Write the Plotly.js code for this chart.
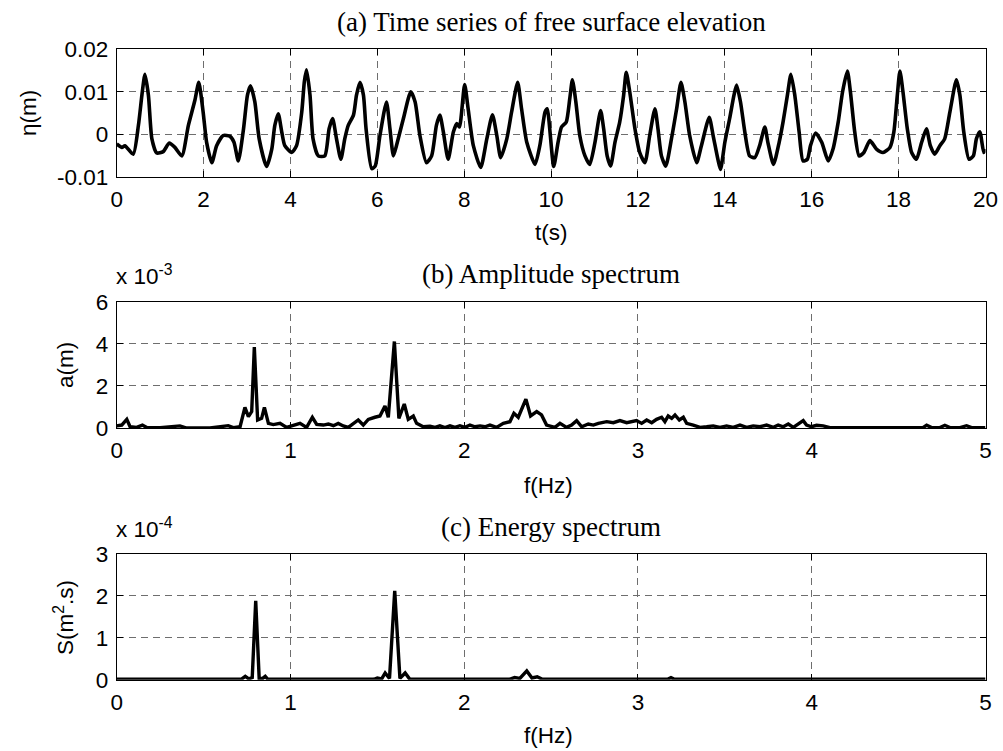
<!DOCTYPE html>
<html>
<head>
<meta charset="utf-8">
<script src="https://cdn.plot.ly/plotly-3.0.1.min.js"></script>
<style>html,body{margin:0;padding:0;background:#fff;}#chart{width:1003px;height:751px;}</style>
</head>
<body>
<div id="chart"></div>
<script>
// (a) time series of free surface elevation
var timeS = [0.00,0.12,0.19,0.38,0.50,0.58,0.65,0.73,0.81,0.92,1.07,1.21,1.34,1.50,1.65,1.80,1.89,1.99,2.07,2.19,2.30,2.45,2.61,2.70,2.80,2.92,3.01,3.08,3.18,3.28,3.45,3.57,3.64,3.72,3.80,3.87,4.03,4.14,4.26,4.32,4.37,4.45,4.52,4.64,4.79,4.89,
  4.97,5.06,5.16,5.25,5.33,5.45,5.52,5.60,5.68,5.74,5.87,5.95,6.06,6.21,6.29,6.37,6.44,6.60,6.77,6.87,6.98,7.13,7.25,7.36,7.44,7.52,7.63,7.75,7.83,7.89,8.01,8.09,8.21,8.38,8.52,8.65,8.75,8.84,8.98,9.09,9.23,9.32,9.44,9.63,9.74,9.86,9.91,
  10.06,10.16,10.24,10.35,10.43,10.49,10.57,10.66,10.78,10.89,11.01,11.14,11.21,11.29,11.37,11.47,11.58,11.67,11.73,11.81,11.93,12.04,12.16,12.27,12.39,12.46,12.54,12.64,12.77,12.89,12.99,13.08,13.19,13.35,13.46,13.64,13.73,13.84,13.90,14.00,14.11,14.21,14.27,14.36,14.46,14.57,14.69,14.80,14.92,14.99,
  15.12,15.25,15.34,15.44,15.52,15.61,15.71,15.80,15.90,15.97,16.09,16.23,16.38,16.49,16.61,16.71,16.82,16.89,16.99,17.09,17.20,17.34,17.49,17.64,17.80,17.89,17.97,18.03,18.10,18.20,18.30,18.41,18.53,18.64,18.73,18.83,18.95,19.06,19.18,19.33,19.41,19.50,19.62,19.72,19.79,19.87,19.96,20.00];
var eta = [-0.0023,-0.0031,-0.0027,-0.0047,0.0021,0.0092,0.0141,0.0092,-0.0011,-0.0044,-0.0041,-0.0021,-0.0031,-0.0051,0.0021,0.0080,0.0122,0.0052,-0.0019,-0.0067,-0.0027,-0.0003,-0.0005,-0.0019,-0.0063,0.0013,0.0092,0.0114,0.0076,-0.0011,-0.0076,-0.0035,0.0021,0.0048,0.0005,-0.0027,-0.0043,-0.0027,0.0052,0.0124,0.0152,0.0092,-0.0011,-0.0051,-0.0051,0.0013,
  0.0037,-0.0011,-0.0059,-0.0011,0.0021,0.0045,0.0092,0.0122,0.0092,0.0013,-0.0081,-0.0075,-0.0003,0.0076,0.0013,-0.0051,-0.0027,0.0037,0.0100,0.0076,-0.0003,-0.0067,-0.0051,0.0021,0.0045,0.0005,-0.0059,0.0005,0.0025,0.0017,0.0117,0.0060,-0.0027,-0.0078,-0.0011,0.0046,-0.0003,-0.0055,-0.0011,0.0052,0.0122,0.0060,-0.0019,-0.0071,-0.0027,0.0052,0.0060,
  -0.0076,-0.0019,0.0017,0.0029,0.0084,0.0128,0.0076,-0.0003,-0.0051,-0.0071,-0.0019,0.0056,0.0013,-0.0051,-0.0075,-0.0019,0.0029,0.0092,0.0146,0.0100,0.0013,-0.0043,-0.0067,-0.0003,0.0060,0.0013,-0.0051,-0.0075,-0.0011,0.0060,0.0122,0.0076,-0.0003,-0.0067,-0.0027,0.0040,-0.0003,-0.0059,-0.0083,-0.0019,0.0037,0.0092,0.0116,0.0076,0.0005,-0.0051,-0.0055,-0.0027,0.0017,-0.0019,
  -0.0071,-0.0019,0.0029,0.0092,0.0141,0.0092,0.0005,-0.0063,-0.0059,-0.0027,0.0003,-0.0019,-0.0063,-0.0035,0.0029,0.0100,0.0149,0.0100,0.0005,-0.0051,-0.0043,-0.0015,-0.0035,-0.0043,-0.0031,0.0005,0.0092,0.0149,0.0100,0.0013,-0.0043,-0.0059,-0.0019,0.0013,-0.0027,-0.0047,-0.0027,-0.0011,0.0052,0.0128,0.0092,0.0005,-0.0059,-0.0051,-0.0011,0.0006,-0.0043,-0.0035];

// (b) amplitude spectrum, a in units of 1e-3 m
var freqA = [0.000,0.029,0.058,0.077,0.115,0.148,0.173,0.250,0.364,0.403,0.537,0.642,0.671,0.710,0.738,0.758,0.777,0.792,0.811,0.834,0.850,0.873,0.901,0.940,0.978,1.017,1.055,1.093,1.126,1.151,1.189,1.218,1.247,1.275,1.304,1.333,1.362,1.390,1.419,1.448,1.486,1.515,1.544,1.563,1.598,1.624,1.655,1.678,1.707,1.726,1.764,1.803,1.832,1.860,1.889,1.918,1.947,1.975,2.004,2.033,2.062,2.091,2.119,2.148,2.186,2.225,2.263,2.286,2.311,2.330,2.355,2.382,2.417,2.445,2.474,
  2.522,2.551,2.589,2.618,2.647,2.676,2.714,2.743,2.772,2.820,2.858,2.896,2.935,2.963,2.992,3.021,3.050,3.079,3.107,3.136,3.155,3.174,3.194,3.213,3.238,3.261,3.280,3.318,3.357,3.395,3.433,3.472,3.510,3.548,3.587,3.625,3.663,3.702,3.740,3.779,3.807,3.836,3.865,3.894,3.922,3.951,3.970,3.999,4.028,4.066,4.105,4.354,4.642,4.661,4.690,4.738,4.766,4.795,4.853,4.891,4.920,5.000];
var ampA = [0.10,0.14,0.41,0.06,0.03,0.14,0.02,0.02,0.10,0.00,0.00,0.11,0.02,0.06,0.98,0.54,0.78,3.84,0.38,0.46,0.98,0.22,0.16,0.22,0.03,0.13,0.22,0.03,0.51,0.17,0.14,0.19,0.11,0.22,0.10,0.03,0.22,0.38,0.14,0.41,0.51,0.57,1.05,0.51,4.11,0.46,1.14,0.41,0.57,0.22,0.06,0.08,0.03,0.10,0.02,0.10,0.03,0.11,0.03,0.14,0.06,0.10,0.06,0.14,0.03,0.22,0.30,0.70,0.51,0.86,1.37,0.57,0.78,0.62,0.14,
  0.03,0.22,0.03,0.14,0.35,0.06,0.19,0.14,0.22,0.30,0.25,0.35,0.25,0.30,0.35,0.22,0.38,0.25,0.41,0.51,0.30,0.57,0.46,0.62,0.38,0.51,0.22,0.14,0.03,0.06,0.10,0.03,0.10,0.03,0.14,0.03,0.10,0.06,0.14,0.03,0.14,0.06,0.19,0.03,0.19,0.35,0.14,0.06,0.13,0.10,0.02,0.02,0.03,0.13,0.02,0.02,0.13,0.02,0.02,0.11,0.02,0.02];

// (c) energy spectrum, S in units of 1e-4 m^2.s
var freqS = [0.00,0.70,0.72,0.74,0.76,0.78,0.80,0.82,0.84,0.855,0.87,1.48,1.50,1.525,1.545,1.57,1.60,1.63,1.66,1.685,1.71,2.26,2.29,2.32,2.36,2.39,2.42,2.45,3.17,3.19,3.21,5.00];
var engS = [0.01,0.01,0.02,0.08,0.02,0.05,1.88,0.03,0.03,0.08,0.01,0.01,0.04,0.02,0.16,0.03,2.12,0.03,0.16,0.02,0.01,0.01,0.05,0.03,0.21,0.04,0.07,0.01,0.01,0.05,0.01,0.01];

var tTicks = [0,2,4,6,8,10,12,14,16,18,20];
var etaTicks = [-0.01,0,0.01,0.02];
var etaTickText = ['-0.01','0','0.01','0.02'];
var fTicks = [0,1,2,3,4,5];
var aTicks = [0,2,4,6];
var sTicks = [0,1,2,3];

var titles = ['(a) Time series of free surface elevation','(b) Amplitude spectrum','(c) Energy spectrum'];

var W = 1003, H = 751;
var X0 = 116.7, X1 = 985.5;
var boxes = [[49.3,176.7],[301.7,428.0],[553.9,679.7]];
function py(p){return 1 - p/H;}
function px(p){return p/W;}

var tickFont = {family:'Liberation Sans, Arial, sans-serif', size:22.5, color:'#000'};
var titleFont = {family:'Liberation Serif, Times New Roman, serif', size:27, color:'#000'};

function ax(extra){
  var o = {showline:true, linecolor:'#000', linewidth:1, mirror:'ticks', ticks:'inside', ticklen:6, tickwidth:1, tickcolor:'#000',
    showgrid:true, gridcolor:'#6e6e6e', gridwidth:1, griddash:'7px,5px', zeroline:false, tickfont:tickFont, fixedrange:true, layer:'above traces'};
  for (var k in extra) o[k] = extra[k];
  return o;
}

var line = {color:'#000', width:3.4};
var traces = [
  {x:timeS, y:eta, type:'scatter', mode:'lines', line:{color:'#000', width:3.6, shape:'spline', smoothing:0.6}, xaxis:'x', yaxis:'y', hoverinfo:'skip'},
  {x:freqA, y:ampA, type:'scatter', mode:'lines', line:line, xaxis:'x2', yaxis:'y2', hoverinfo:'skip'},
  {x:freqS, y:engS, type:'scatter', mode:'lines', line:line, xaxis:'x3', yaxis:'y3', hoverinfo:'skip'}
];

var layout = {
  width:W, height:H, margin:{l:0,r:0,t:0,b:0}, paper_bgcolor:'#fff', plot_bgcolor:'#fff', showlegend:false,
  xaxis: ax({domain:[px(X0),px(X1)], range:[0,20], tickvals:tTicks, anchor:'y', ticklabelstandoff:2}),
  yaxis: ax({domain:[py(boxes[0][1]),py(boxes[0][0])], range:[-0.01,0.02], tickvals:etaTicks, ticktext:etaTickText, anchor:'x', ticklabelstandoff:3}),
  xaxis2: ax({domain:[px(X0),px(X1)], range:[0,5], tickvals:fTicks, anchor:'y2', ticklabelstandoff:2}),
  yaxis2: ax({domain:[py(boxes[1][1]),py(boxes[1][0])], range:[0,6], tickvals:aTicks, anchor:'x2', ticklabelstandoff:3}),
  xaxis3: ax({domain:[px(X0),px(X1)], range:[0,5], tickvals:fTicks, anchor:'y3', ticklabelstandoff:2}),
  yaxis3: ax({domain:[py(boxes[2][1]),py(boxes[2][0])], range:[0,3], tickvals:sTicks, anchor:'x3', ticklabelstandoff:3}),
  annotations: [
    {text:titles[0], x:px((X0+X1)/2), y:py(22), xref:'paper', yref:'paper', xanchor:'center', yanchor:'middle', showarrow:false, font:titleFont},
    {text:titles[1], x:px((X0+X1)/2), y:py(274), xref:'paper', yref:'paper', xanchor:'center', yanchor:'middle', showarrow:false, font:titleFont},
    {text:titles[2], x:px((X0+X1)/2), y:py(527), xref:'paper', yref:'paper', xanchor:'center', yanchor:'middle', showarrow:false, font:titleFont},
    {text:'t(s)', x:px(551), y:py(233), xref:'paper', yref:'paper', xanchor:'center', yanchor:'middle', showarrow:false, font:tickFont},
    {text:'f(Hz)', x:px(548), y:py(485), xref:'paper', yref:'paper', xanchor:'center', yanchor:'middle', showarrow:false, font:tickFont},
    {text:'f(Hz)', x:px(548), y:py(735), xref:'paper', yref:'paper', xanchor:'center', yanchor:'middle', showarrow:false, font:tickFont},
    {text:'η(m)', x:px(29), y:py(113), xref:'paper', yref:'paper', xanchor:'center', yanchor:'middle', textangle:-90, showarrow:false, font:tickFont},
    {text:'a(m)', x:px(66), y:py(365), xref:'paper', yref:'paper', xanchor:'center', yanchor:'middle', textangle:-90, showarrow:false, font:tickFont},
    {text:'S(m<sup>2</sup>.s)', x:px(64), y:py(617), xref:'paper', yref:'paper', xanchor:'center', yanchor:'middle', textangle:-90, showarrow:false, font:tickFont},
    {text:'x 10<sup>-3</sup>', x:px(114), y:py(291), xref:'paper', yref:'paper', xanchor:'left', yanchor:'bottom', showarrow:false, font:tickFont},
    {text:'x 10<sup>-4</sup>', x:px(114), y:py(544), xref:'paper', yref:'paper', xanchor:'left', yanchor:'bottom', showarrow:false, font:tickFont}
  ]
};

Plotly.newPlot('chart', traces, layout, {displayModeBar:false, staticPlot:true});
</script>
</body>
</html>
